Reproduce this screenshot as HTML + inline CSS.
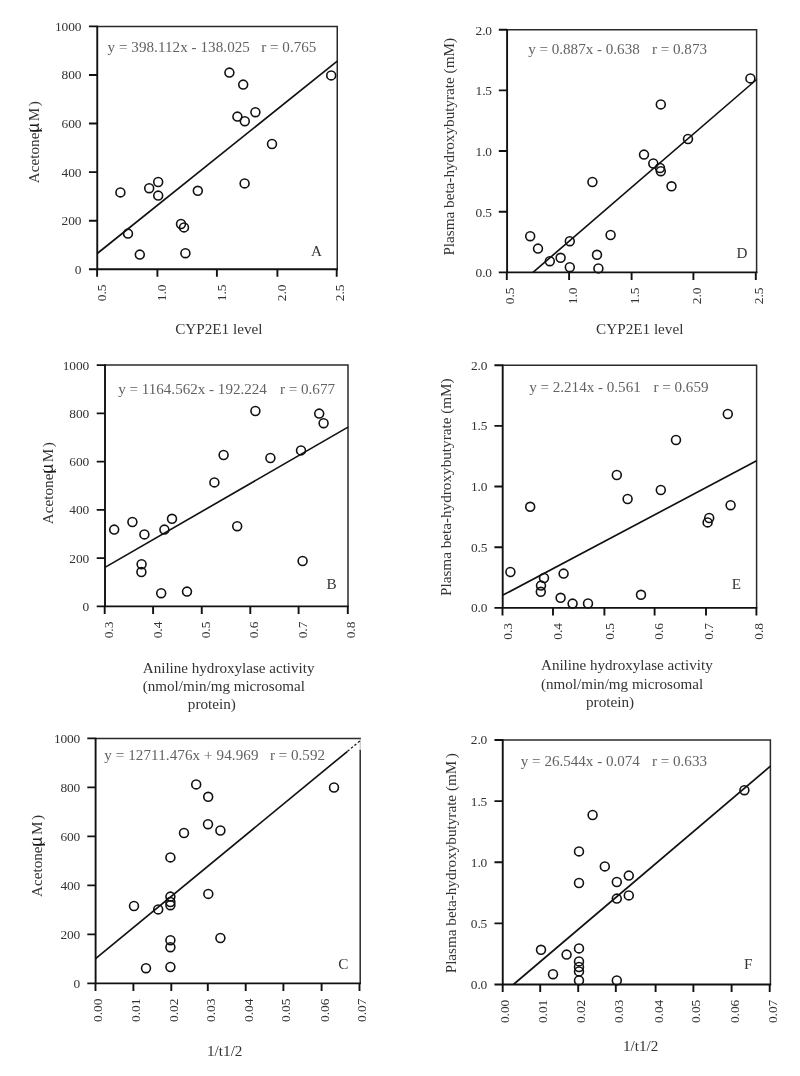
<!DOCTYPE html>
<html lang="en">
<head>
<meta charset="utf-8">
<title>Correlation plots: acetone and plasma beta-hydroxybutyrate versus CYP2E1</title>
<style>
html,body{margin:0;padding:0;background:#fff;}
body{width:800px;height:1076px;overflow:hidden;}
svg{display:block;}
text{font-family:"Liberation Serif","DejaVu Serif",serif;}
.tk text{font-size:13.4px;letter-spacing:-0.15px;fill:#333;}
.tk text.r{font-size:13.5px;letter-spacing:-0.1px;}
.t{font-size:15.2px;fill:#333;}
.t2{font-size:15.08px;}
.eq{font-size:15.08px;fill:#626262;}
.mu{font-family:"Liberation Sans","DejaVu Sans",sans-serif;font-weight:normal;font-size:16.5px;fill:#1a1a1a;}
.pt circle{fill:none;stroke:#111;stroke-width:1.6;}
</style>
</head>
<body>
<svg width="800" height="1076" viewBox="0 0 800 1076">
<rect width="800" height="1076" fill="#fff"/>
<g id="panel-A">
<path d="M97.25 26.4H337.25V269.25" fill="none" stroke="#2a2a2a" stroke-width="1.5" stroke-linecap="square"/>
<path d="M97.25 25.65V269.25H338M97.1 269.25v7.6M157.4 269.25v7.6M216.9 269.25v7.6M277.4 269.25v7.6M336.7 269.25v7.6M97.25 269.25h-8.3M97.25 220.68h-8.3M97.25 172.11h-8.3M97.25 123.54h-8.3M97.25 74.97h-8.3M97.25 26.4h-8.3" fill="none" stroke="#111" stroke-width="1.9" stroke-linejoin="miter"/>
<g class="tk">
<text class="r" transform="translate(105.8 284.55) rotate(-90)" text-anchor="end">0.5</text>
<text class="r" transform="translate(166.1 284.55) rotate(-90)" text-anchor="end">1.0</text>
<text class="r" transform="translate(225.7 284.55) rotate(-90)" text-anchor="end">1.5</text>
<text class="r" transform="translate(286.3 284.55) rotate(-90)" text-anchor="end">2.0</text>
<text class="r" transform="translate(344.3 284.55) rotate(-90)" text-anchor="end">2.5</text>
<text x="81.25" y="273.75" text-anchor="end">0</text>
<text x="81.25" y="225.18" text-anchor="end">200</text>
<text x="81.25" y="176.61" text-anchor="end">400</text>
<text x="81.25" y="128.04" text-anchor="end">600</text>
<text x="81.25" y="79.47" text-anchor="end">800</text>
<text x="81.25" y="30.9" text-anchor="end">1000</text>
</g>
<line x1="97.25" y1="253.5" x2="337.25" y2="61.1" stroke="#111" stroke-width="1.65"/>
<g class="pt">
<circle cx="229.4" cy="72.6" r="4.45"/>
<circle cx="243.2" cy="84.6" r="4.45"/>
<circle cx="237.4" cy="116.6" r="4.45"/>
<circle cx="244.8" cy="121.2" r="4.45"/>
<circle cx="255.4" cy="112.2" r="4.45"/>
<circle cx="272" cy="144" r="4.45"/>
<circle cx="331.2" cy="75.4" r="4.45"/>
<circle cx="120.4" cy="192.4" r="4.45"/>
<circle cx="149.2" cy="188.2" r="4.45"/>
<circle cx="158.2" cy="182" r="4.45"/>
<circle cx="158.2" cy="195.6" r="4.45"/>
<circle cx="197.8" cy="190.8" r="4.45"/>
<circle cx="244.6" cy="183.4" r="4.45"/>
<circle cx="181" cy="224" r="4.45"/>
<circle cx="184" cy="227.4" r="4.45"/>
<circle cx="128" cy="233.6" r="4.45"/>
<circle cx="139.8" cy="254.6" r="4.45"/>
<circle cx="185.4" cy="253.2" r="4.45"/>
</g>
<text class="eq" x="107.5" y="52.4" letter-spacing="0.06">y = 398.112x - 138.025</text>
<text class="eq" x="261.3" y="52.4">r = 0.765</text>
<text class="t" x="316.6" y="255.6" text-anchor="middle">A</text>
</g>
<g id="panel-D">
<path d="M507.1 29.7H756.6V272.35" fill="none" stroke="#2a2a2a" stroke-width="1.5" stroke-linecap="square"/>
<path d="M507.1 28.95V272.35H757.35M506.8 272.35v7.6M569.1 272.35v7.6M631.6 272.35v7.6M693.4 272.35v7.6M755.8 272.35v7.6M507.1 272.35h-8.3M507.1 211.69h-8.3M507.1 151.03h-8.3M507.1 90.36h-8.3M507.1 29.7h-8.3" fill="none" stroke="#111" stroke-width="1.9" stroke-linejoin="miter"/>
<g class="tk">
<text class="r" transform="translate(514.3 287.65) rotate(-90)" text-anchor="end">0.5</text>
<text class="r" transform="translate(576.6 287.65) rotate(-90)" text-anchor="end">1.0</text>
<text class="r" transform="translate(639.1 287.65) rotate(-90)" text-anchor="end">1.5</text>
<text class="r" transform="translate(700.9 287.65) rotate(-90)" text-anchor="end">2.0</text>
<text class="r" transform="translate(763.3 287.65) rotate(-90)" text-anchor="end">2.5</text>
<text x="491.9" y="277.35" text-anchor="end">0.0</text>
<text x="491.9" y="216.69" text-anchor="end">0.5</text>
<text x="491.9" y="156.03" text-anchor="end">1.0</text>
<text x="491.9" y="95.36" text-anchor="end">1.5</text>
<text x="491.9" y="34.7" text-anchor="end">2.0</text>
</g>
<line x1="533" y1="272.35" x2="756.6" y2="79.5" stroke="#111" stroke-width="1.65"/>
<g class="pt">
<circle cx="530.2" cy="236.2" r="4.45"/>
<circle cx="538" cy="248.6" r="4.45"/>
<circle cx="549.8" cy="261.2" r="4.45"/>
<circle cx="560.6" cy="257.8" r="4.45"/>
<circle cx="569.8" cy="241.2" r="4.45"/>
<circle cx="569.8" cy="267.2" r="4.45"/>
<circle cx="592.4" cy="182" r="4.45"/>
<circle cx="597" cy="254.8" r="4.45"/>
<circle cx="598.4" cy="268.4" r="4.45"/>
<circle cx="610.6" cy="235" r="4.45"/>
<circle cx="644" cy="154.6" r="4.45"/>
<circle cx="653.3" cy="163.5" r="4.45"/>
<circle cx="660" cy="168" r="4.45"/>
<circle cx="660.8" cy="171.2" r="4.45"/>
<circle cx="660.8" cy="104.4" r="4.45"/>
<circle cx="671.5" cy="186.3" r="4.45"/>
<circle cx="688" cy="139" r="4.45"/>
<circle cx="750.4" cy="78.4" r="4.45"/>
</g>
<text class="eq" x="528.2" y="53.5">y = 0.887x - 0.638</text>
<text class="eq" x="652" y="53.5">r = 0.873</text>
<text class="t" x="742" y="258.4" text-anchor="middle">D</text>
</g>
<g id="panel-B">
<path d="M105 365.1H348V606.4" fill="none" stroke="#2a2a2a" stroke-width="1.5" stroke-linecap="square"/>
<path d="M105 364.35V606.4H348.75M104.7 606.4v7.6M153.1 606.4v7.6M201.75 606.4v7.6M250.3 606.4v7.6M298.6 606.4v7.6M347.8 606.4v7.6M105 606.4h-8.3M105 558.14h-8.3M105 509.88h-8.3M105 461.62h-8.3M105 413.36h-8.3M105 365.1h-8.3" fill="none" stroke="#111" stroke-width="1.9" stroke-linejoin="miter"/>
<g class="tk">
<text class="r" transform="translate(112.9 621.7) rotate(-90)" text-anchor="end">0.3</text>
<text class="r" transform="translate(161.7 621.7) rotate(-90)" text-anchor="end">0.4</text>
<text class="r" transform="translate(210.15 621.7) rotate(-90)" text-anchor="end">0.5</text>
<text class="r" transform="translate(258.2 621.7) rotate(-90)" text-anchor="end">0.6</text>
<text class="r" transform="translate(307.2 621.7) rotate(-90)" text-anchor="end">0.7</text>
<text class="r" transform="translate(355.4 621.7) rotate(-90)" text-anchor="end">0.8</text>
<text x="89" y="610.9" text-anchor="end">0</text>
<text x="89" y="562.64" text-anchor="end">200</text>
<text x="89" y="514.38" text-anchor="end">400</text>
<text x="89" y="466.12" text-anchor="end">600</text>
<text x="89" y="417.86" text-anchor="end">800</text>
<text x="89" y="369.6" text-anchor="end">1000</text>
</g>
<line x1="105" y1="567.4" x2="348" y2="427.1" stroke="#111" stroke-width="1.65"/>
<g class="pt">
<circle cx="114.2" cy="529.6" r="4.45"/>
<circle cx="132.4" cy="522" r="4.45"/>
<circle cx="144.4" cy="534.4" r="4.45"/>
<circle cx="164.4" cy="529.6" r="4.45"/>
<circle cx="172" cy="518.8" r="4.45"/>
<circle cx="214.4" cy="482.4" r="4.45"/>
<circle cx="237.2" cy="526.2" r="4.45"/>
<circle cx="141.6" cy="564.2" r="4.45"/>
<circle cx="141.4" cy="572" r="4.45"/>
<circle cx="161.2" cy="593.2" r="4.45"/>
<circle cx="187" cy="591.6" r="4.45"/>
<circle cx="255.4" cy="411" r="4.45"/>
<circle cx="319.2" cy="413.6" r="4.45"/>
<circle cx="323.6" cy="423.2" r="4.45"/>
<circle cx="301" cy="450.4" r="4.45"/>
<circle cx="270.4" cy="458" r="4.45"/>
<circle cx="223.6" cy="455" r="4.45"/>
<circle cx="302.6" cy="561" r="4.45"/>
</g>
<text class="eq" x="118.2" y="394">y = 1164.562x - 192.224</text>
<text class="eq" x="280" y="394">r = 0.677</text>
<text class="t" x="331.5" y="589" text-anchor="middle">B</text>
</g>
<g id="panel-E">
<path d="M502.7 365.2H756.6V607.85" fill="none" stroke="#2a2a2a" stroke-width="1.5" stroke-linecap="square"/>
<path d="M502.7 364.45V607.85H757.35M502.5 607.85v7.6M553 607.85v7.6M604.4 607.85v7.6M654.6 607.85v7.6M706 607.85v7.6M756.4 607.85v7.6M502.7 607.85h-8.3M502.7 547.19h-8.3M502.7 486.52h-8.3M502.7 425.86h-8.3M502.7 365.2h-8.3" fill="none" stroke="#111" stroke-width="1.9" stroke-linejoin="miter"/>
<g class="tk">
<text class="r" transform="translate(511.8 623.15) rotate(-90)" text-anchor="end">0.3</text>
<text class="r" transform="translate(562.3 623.15) rotate(-90)" text-anchor="end">0.4</text>
<text class="r" transform="translate(613.7 623.15) rotate(-90)" text-anchor="end">0.5</text>
<text class="r" transform="translate(662.6 623.15) rotate(-90)" text-anchor="end">0.6</text>
<text class="r" transform="translate(712.9 623.15) rotate(-90)" text-anchor="end">0.7</text>
<text class="r" transform="translate(762.8 623.15) rotate(-90)" text-anchor="end">0.8</text>
<text x="487.2" y="612.25" text-anchor="end">0.0</text>
<text x="487.2" y="551.59" text-anchor="end">0.5</text>
<text x="487.2" y="490.92" text-anchor="end">1.0</text>
<text x="487.2" y="430.26" text-anchor="end">1.5</text>
<text x="487.2" y="369.6" text-anchor="end">2.0</text>
</g>
<line x1="503" y1="595.1" x2="756.6" y2="460.8" stroke="#111" stroke-width="1.65"/>
<g class="pt">
<circle cx="510.4" cy="572" r="4.45"/>
<circle cx="530.2" cy="506.8" r="4.45"/>
<circle cx="544" cy="578" r="4.45"/>
<circle cx="541" cy="585.6" r="4.45"/>
<circle cx="540.8" cy="591.8" r="4.45"/>
<circle cx="563.6" cy="573.6" r="4.45"/>
<circle cx="560.6" cy="597.8" r="4.45"/>
<circle cx="572.6" cy="603.6" r="4.45"/>
<circle cx="588" cy="603.4" r="4.45"/>
<circle cx="616.8" cy="475" r="4.45"/>
<circle cx="627.6" cy="499" r="4.45"/>
<circle cx="641" cy="594.8" r="4.45"/>
<circle cx="660.8" cy="490" r="4.45"/>
<circle cx="676" cy="440" r="4.45"/>
<circle cx="727.8" cy="414" r="4.45"/>
<circle cx="730.6" cy="505.2" r="4.45"/>
<circle cx="709.2" cy="518" r="4.45"/>
<circle cx="707.6" cy="522.4" r="4.45"/>
</g>
<text class="eq" x="529.2" y="392">y = 2.214x - 0.561</text>
<text class="eq" x="653.5" y="392">r = 0.659</text>
<text class="t" x="736.5" y="588.6" text-anchor="middle">E</text>
</g>
<g id="panel-C">
<path d="M95.6 738.4H360.2M360.2 750.4V983.35" fill="none" stroke="#2a2a2a" stroke-width="1.5" stroke-linecap="square"/>
<path d="M360.2 738.4V750.4" fill="none" stroke="#888" stroke-width="0.6"/>
<path d="M95.6 737.65V983.35H360.95M95.5 983.35v7.6M133.4 983.35v7.6M171.3 983.35v7.6M207.8 983.35v7.6M245.7 983.35v7.6M283.4 983.35v7.6M321.6 983.35v7.6M359.5 983.35v7.6M95.6 983.35h-8.3M95.6 934.36h-8.3M95.6 885.37h-8.3M95.6 836.38h-8.3M95.6 787.39h-8.3M95.6 738.4h-8.3" fill="none" stroke="#111" stroke-width="1.9" stroke-linejoin="miter"/>
<g class="tk">
<text class="r" transform="translate(102.4 998.65) rotate(-90)" text-anchor="end">0.00</text>
<text class="r" transform="translate(140.3 998.65) rotate(-90)" text-anchor="end">0.01</text>
<text class="r" transform="translate(178.2 998.65) rotate(-90)" text-anchor="end">0.02</text>
<text class="r" transform="translate(214.7 998.65) rotate(-90)" text-anchor="end">0.03</text>
<text class="r" transform="translate(252.6 998.65) rotate(-90)" text-anchor="end">0.04</text>
<text class="r" transform="translate(290.3 998.65) rotate(-90)" text-anchor="end">0.05</text>
<text class="r" transform="translate(328.5 998.65) rotate(-90)" text-anchor="end">0.06</text>
<text class="r" transform="translate(366.4 998.65) rotate(-90)" text-anchor="end">0.07</text>
<text x="80.1" y="987.65" text-anchor="end">0</text>
<text x="80.1" y="938.66" text-anchor="end">200</text>
<text x="80.1" y="889.67" text-anchor="end">400</text>
<text x="80.1" y="840.68" text-anchor="end">600</text>
<text x="80.1" y="791.69" text-anchor="end">800</text>
<text x="80.1" y="742.7" text-anchor="end">1000</text>
</g>
<line x1="95.6" y1="958.6" x2="347.5" y2="751.3" stroke="#111" stroke-width="1.65"/>
<line x1="347.5" y1="751.3" x2="360.3" y2="740.6" stroke="#111" stroke-width="1.2" stroke-dasharray="2.5 2"/>
<g class="pt">
<circle cx="196.2" cy="784.4" r="4.45"/>
<circle cx="208.2" cy="796.8" r="4.45"/>
<circle cx="208" cy="824.2" r="4.45"/>
<circle cx="220.4" cy="830.5" r="4.45"/>
<circle cx="184" cy="833" r="4.45"/>
<circle cx="170.4" cy="857.4" r="4.45"/>
<circle cx="208.3" cy="893.9" r="4.45"/>
<circle cx="170.4" cy="896.6" r="4.45"/>
<circle cx="170.4" cy="902" r="4.45"/>
<circle cx="170.4" cy="905.2" r="4.45"/>
<circle cx="158.2" cy="909.4" r="4.45"/>
<circle cx="134" cy="906" r="4.45"/>
<circle cx="170.4" cy="940.2" r="4.45"/>
<circle cx="170.4" cy="947.2" r="4.45"/>
<circle cx="220.4" cy="938" r="4.45"/>
<circle cx="146" cy="968.2" r="4.45"/>
<circle cx="170.4" cy="967" r="4.45"/>
<circle cx="334" cy="787.5" r="4.45"/>
</g>
<text class="eq" x="104.2" y="759.7" letter-spacing="0.1">y = 12711.476x + 94.969</text>
<text class="eq" x="270" y="759.7">r = 0.592</text>
<text class="t" x="343.3" y="969" text-anchor="middle">C</text>
</g>
<g id="panel-F">
<path d="M502.75 740H770.4V984.5" fill="none" stroke="#2a2a2a" stroke-width="1.5" stroke-linecap="square"/>
<path d="M502.75 739.25V984.5H771.15M502.7 984.5v7.6M540.2 984.5v7.6M578.2 984.5v7.6M615.8 984.5v7.6M655.6 984.5v7.6M693.4 984.5v7.6M731.6 984.5v7.6M769.7 984.5v7.6M502.75 984.5h-8.3M502.75 923.38h-8.3M502.75 862.25h-8.3M502.75 801.12h-8.3M502.75 740h-8.3" fill="none" stroke="#111" stroke-width="1.9" stroke-linejoin="miter"/>
<g class="tk">
<text class="r" transform="translate(508.7 999.8) rotate(-90)" text-anchor="end">0.00</text>
<text class="r" transform="translate(546.9 999.8) rotate(-90)" text-anchor="end">0.01</text>
<text class="r" transform="translate(584.9 999.8) rotate(-90)" text-anchor="end">0.02</text>
<text class="r" transform="translate(622.8 999.8) rotate(-90)" text-anchor="end">0.03</text>
<text class="r" transform="translate(662.6 999.8) rotate(-90)" text-anchor="end">0.04</text>
<text class="r" transform="translate(700.4 999.8) rotate(-90)" text-anchor="end">0.05</text>
<text class="r" transform="translate(738.6 999.8) rotate(-90)" text-anchor="end">0.06</text>
<text class="r" transform="translate(776.7 999.8) rotate(-90)" text-anchor="end">0.07</text>
<text x="487.15" y="988.9" text-anchor="end">0.0</text>
<text x="487.15" y="927.77" text-anchor="end">0.5</text>
<text x="487.15" y="866.65" text-anchor="end">1.0</text>
<text x="487.15" y="805.52" text-anchor="end">1.5</text>
<text x="487.15" y="744.4" text-anchor="end">2.0</text>
</g>
<line x1="513.4" y1="984.5" x2="770.4" y2="766.2" stroke="#111" stroke-width="1.65"/>
<g class="pt">
<circle cx="579" cy="851.4" r="4.45"/>
<circle cx="604.8" cy="866.4" r="4.45"/>
<circle cx="579" cy="883" r="4.45"/>
<circle cx="616.8" cy="882" r="4.45"/>
<circle cx="628.8" cy="875.6" r="4.45"/>
<circle cx="616.8" cy="898.6" r="4.45"/>
<circle cx="628.8" cy="895.4" r="4.45"/>
<circle cx="541" cy="949.8" r="4.45"/>
<circle cx="566.6" cy="954.6" r="4.45"/>
<circle cx="579" cy="948.4" r="4.45"/>
<circle cx="579" cy="961.4" r="4.45"/>
<circle cx="579" cy="967" r="4.45"/>
<circle cx="579" cy="971.4" r="4.45"/>
<circle cx="579" cy="980.4" r="4.45"/>
<circle cx="553" cy="974.2" r="4.45"/>
<circle cx="616.8" cy="980.4" r="4.45"/>
<circle cx="592.6" cy="815" r="4.45"/>
<circle cx="744.4" cy="790.2" r="4.45"/>
</g>
<text class="eq" x="520.8" y="765.7">y = 26.544x - 0.074</text>
<text class="eq" x="652" y="765.7">r = 0.633</text>
<text class="t" x="748.3" y="969" text-anchor="middle">F</text>
</g>
<g transform="translate(39.2 183.2) rotate(-90)"><text class="t" x="0" y="0">Acetone(</text><text class="mu" x="50.6" y="0">µ</text><text class="t" x="61.9" y="0">M<tspan dx="1.5">)</tspan></text></g>
<g transform="translate(53.1 524.2) rotate(-90)"><text class="t" x="0" y="0">Acetone(</text><text class="mu" x="50.6" y="0">µ</text><text class="t" x="61.9" y="0">M<tspan dx="1.5">)</tspan></text></g>
<g transform="translate(42.3 897) rotate(-90)"><text class="t" x="0" y="0">Acetone(</text><text class="mu" x="50.6" y="0">µ</text><text class="t" x="61.9" y="0">M<tspan dx="1.5">)</tspan></text></g>
<text class="t" transform="translate(453.5 255.6) rotate(-90)">Plasma beta-hydroxybutyrate (mM)</text>
<text class="t" transform="translate(450.7 596) rotate(-90)">Plasma beta-hydroxybutyrate (mM)</text>
<text class="t" transform="translate(456.2 973.3) rotate(-90)">Plasma beta-hydroxybutyrate (mM<tspan dx="2.6">)</tspan></text>
<text class="t" x="175.2" y="334">CYP2E1 level</text>
<text class="t" x="596.1" y="334">CYP2E1 level</text>
<text class="t t2" x="142.8" y="672.5">Aniline hydroxylase activity</text>
<text class="t t2" x="142.8" y="691">(nmol/min/mg microsomal</text>
<text class="t" x="187.8" y="708.8">protein)</text>
<text class="t t2" x="541" y="670">Aniline hydroxylase activity</text>
<text class="t t2" x="541" y="688.7">(nmol/min/mg microsomal</text>
<text class="t" x="586" y="706.6">protein)</text>
<text class="t" x="207" y="1055.6">1/t1/2</text>
<text class="t" x="622.9" y="1050.6">1/t1/2</text>
</svg>
</body>
</html>
